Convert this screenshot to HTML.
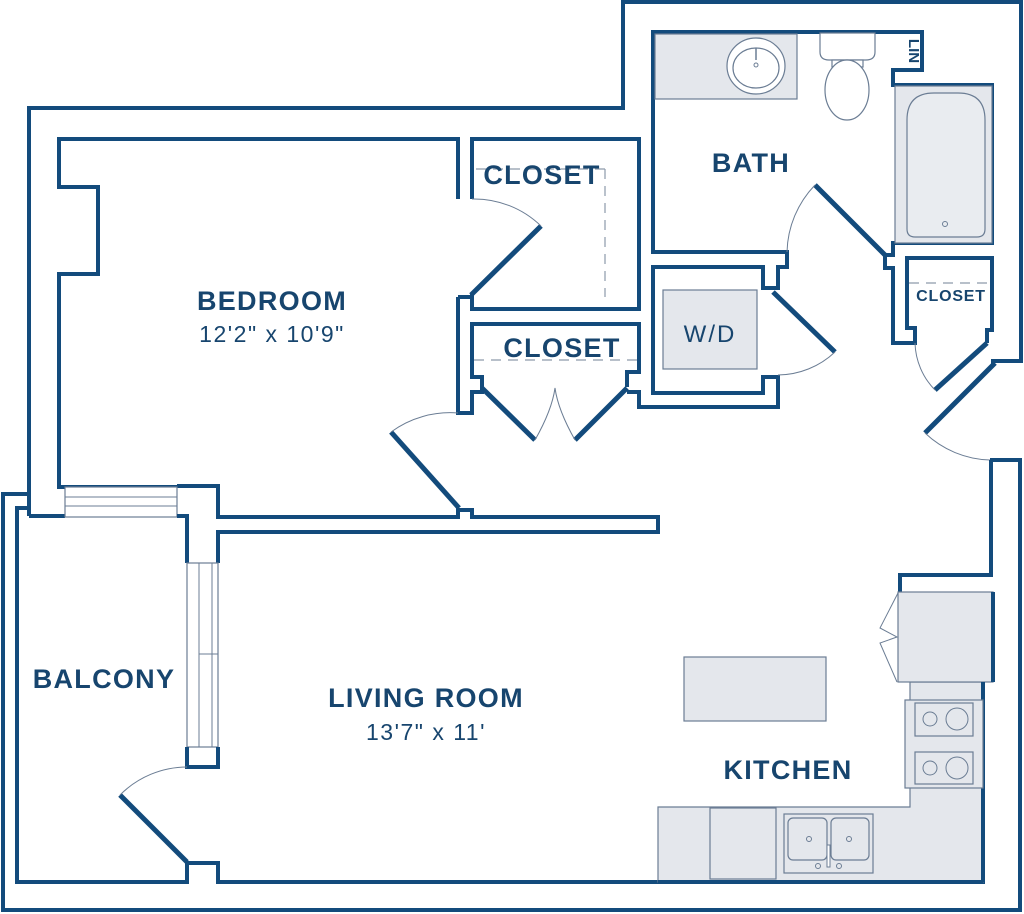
<!DOCTYPE html>
<html><head><meta charset="utf-8"><style>
html,body{margin:0;padding:0;background:#fff;}
svg{display:block;}
text{font-family:"Liberation Sans",sans-serif;fill:#17456e;}
.w{fill:none;stroke:#134b7c;stroke-width:4;stroke-linejoin:miter;}
.d{fill:none;stroke:#134b7c;stroke-width:5;}
.a{fill:none;stroke:#6b7d94;stroke-width:1;}
.g{fill:#e4e7ec;stroke:#6b7d94;stroke-width:1.2;}
.dash{fill:none;stroke:#8d9aab;stroke-width:1.2;stroke-dasharray:10 7;}
.b{font-weight:bold;font-size:27px;letter-spacing:1.3px;}
.s{font-size:23px;letter-spacing:1.5px;}
</style></head><body>
<svg width="1024" height="914" viewBox="0 0 1024 914" xmlns="http://www.w3.org/2000/svg">
<polyline class="w" points="29,516 29,108 623,108 623,2 1021,2 1021,361 993,361 993,364"/>
<polyline class="w" points="990,460 1020,460 1020,910 3,910 3,494 29,494"/>
<polyline class="w" points="29,508 17,508 17,882 187,882 187,863 218,863 218,882 983,882 983,682"/>
<polyline class="w" points="458,199 458,139 59,139 59,187 98,187 98,274 59,274 59,487 177,487"/>
<polyline class="w" points="177,486 218,486 218,517 458,517 458,510 472,510 472,517 658,517 658,532 218,532 218,563"/>
<polyline class="w" points="29,516 65,516"/>
<rect x="65" y="487" width="112" height="30" fill="#fff" stroke="#6b7d94" stroke-width="1.2"/>
<line x1="65" y1="497" x2="177" y2="497" class="a"/>
<line x1="65" y1="506" x2="177" y2="506" class="a"/>
<polyline class="w" points="177,516 187,516 187,563"/>
<polyline class="w" points="458,297 472,297 472,293"/>
<polyline class="w" points="458,297 458,413 472,413 472,392 482,392 482,377 472,377 472,324 639,324 639,372 627,372 627,387"/>
<polyline class="w" points="627,392 639,392 639,407 778,407 778,377 763,377 763,393 653,393 653,267 763,267 763,288 778,288 778,267 787,267 787,252 653,252 653,32 922,32 922,70 893,70 893,85 992,85 992,243 893,243 893,255 885,255 885,268 893,268 893,343 915,343 915,328 907,328 907,258 992,258 992,330 987,330 987,343"/>
<polyline class="w" points="472,199 472,139 639,139 639,309 472,309 472,295"/>
<rect x="187" y="563" width="31" height="184" fill="#fff" stroke="#6b7d94" stroke-width="1.2"/>
<line x1="199" y1="563" x2="199" y2="747" class="a"/>
<line x1="212" y1="563" x2="212" y2="747" class="a"/>
<line x1="199" y1="654" x2="218" y2="654" class="a"/>
<polyline class="w" points="187,747 187,767 218,767 218,747"/>
<line class="d" x1="187" y1="862" x2="120" y2="795"/>
<path class="a" d="M120,795 A95,95 0 0 1 187,767"/>
<line class="d" x1="459" y1="508" x2="391" y2="432"/>
<path class="a" d="M391,432 A100,100 0 0 1 458,413"/>
<line class="d" x1="471" y1="295" x2="541" y2="226"/>
<path class="a" d="M472,199 A96,96 0 0 1 541,226"/>
<line class="d" x1="482" y1="388" x2="535" y2="440"/>
<line class="d" x1="627" y1="388" x2="575" y2="440"/>
<path class="a" d="M535,440 Q552,410 555,388 Q558,410 575,440"/>
<line class="d" x1="885" y1="255" x2="815" y2="185"/>
<path class="a" d="M815,185 A100,100 0 0 0 787,252"/>
<line class="d" x1="773" y1="292" x2="835" y2="352"/>
<path class="a" d="M835,352 A84,84 0 0 1 778,375"/>
<line class="d" x1="987" y1="343" x2="935" y2="390"/>
<path class="a" d="M915,343 A70,70 0 0 0 935,390"/>
<line class="d" x1="995" y1="363" x2="925" y2="433"/>
<path class="a" d="M925,433 A98,98 0 0 0 990,460"/>
<line class="dash" x1="476" y1="169" x2="605" y2="169"/>
<line class="dash" x1="605" y1="169" x2="605" y2="297"/>
<line class="dash" x1="474" y1="360" x2="637" y2="360"/>
<line class="dash" x1="909" y1="283" x2="987" y2="283"/>
<rect class="g" x="655" y="34" width="142" height="65"/>
<ellipse cx="756" cy="66" rx="29" ry="28" fill="#fff" stroke="#6b7d94" stroke-width="1.2"/>
<ellipse cx="756" cy="68" rx="23" ry="20" fill="#fff" stroke="#6b7d94" stroke-width="1.2"/>
<line x1="756" y1="48" x2="756" y2="60" stroke="#6b7d94" stroke-width="1.5"/>
<circle cx="756" cy="65" r="2" class="a"/>
<path d="M820,33 L875,33 L875,52 Q875,60 866,60 L829,60 Q820,60 820,52 Z" fill="#fff" stroke="#6b7d94" stroke-width="1.2"/>
<rect x="832" y="60" width="31" height="7" fill="#fff" stroke="#6b7d94" stroke-width="1.2"/>
<ellipse cx="847" cy="90" rx="22" ry="30" fill="#fff" stroke="#6b7d94" stroke-width="1.2"/>
<rect class="g" x="895" y="86" width="97" height="157"/>
<path d="M907,120 Q907,93 934,93 L958,93 Q985,93 985,120 L985,229 Q985,237 977,237 L915,237 Q907,237 907,229 Z" fill="#e9ecf0" stroke="#6b7d94" stroke-width="1.2"/>
<circle cx="945" cy="224" r="2.5" fill="none" stroke="#6b7d94"/>
<text x="909" y="51" font-size="15" font-weight="bold" text-anchor="middle" transform="rotate(90 909 51)">LIN</text>
<rect class="g" x="663" y="290" width="94" height="79"/>
<polyline class="w" points="991,460 991,575 900,575 900,592"/>
<path class="g" d="M910,682 L983,682 L983,882 L658,882 L658,807 L910,807 Z"/>
<rect class="g" x="898" y="592" width="95" height="90"/>
<polyline class="a" points="898,593 880,628 897,637 880,643 897,682"/>
<line class="w" x1="993" y1="592" x2="993" y2="682"/>
<line class="w" x1="983" y1="682" x2="983" y2="882"/>
<rect class="g" x="905" y="700" width="78" height="88"/>
<rect class="g" x="915" y="703" width="58" height="33"/>
<rect class="g" x="915" y="752" width="58" height="32"/>
<circle cx="930" cy="719" r="7" class="a"/><circle cx="957" cy="719" r="11" class="a"/>
<circle cx="930" cy="768" r="7" class="a"/><circle cx="957" cy="768" r="11" class="a"/>
<rect class="g" x="710" y="808" width="66" height="71"/>
<rect class="g" x="784" y="814" width="89" height="59"/>
<rect x="788" y="818" width="39" height="42" rx="5" fill="none" stroke="#6b7d94" stroke-width="1.2"/>
<rect x="831" y="818" width="38" height="42" rx="5" fill="none" stroke="#6b7d94" stroke-width="1.2"/>
<circle cx="809" cy="839" r="2.5" class="a"/><circle cx="849" cy="839" r="2.5" class="a"/>
<circle cx="818" cy="866" r="2.5" class="a"/><circle cx="839" cy="866" r="2.5" class="a"/>
<rect x="827" y="845" width="3" height="22" fill="#fff" stroke="#6b7d94"/>
<line class="w" x1="658" y1="882" x2="983" y2="882"/>
<rect class="g" x="684" y="657" width="142" height="64"/>
<text class="b" x="272" y="310" text-anchor="middle">BEDROOM</text>
<text class="s" x="272" y="342" text-anchor="middle">12'2" x 10'9"</text>
<text class="b" x="542" y="184" text-anchor="middle">CLOSET</text>
<text class="b" x="562" y="357" text-anchor="middle">CLOSET</text>
<text class="b" x="751" y="172" text-anchor="middle">BATH</text>
<text x="710" y="342" font-size="24" letter-spacing="2" text-anchor="middle">W/D</text>
<text x="951" y="301" font-size="16" letter-spacing="0.8" font-weight="bold" text-anchor="middle">CLOSET</text>
<text class="b" x="104" y="688" text-anchor="middle">BALCONY</text>
<text class="b" x="426" y="707" text-anchor="middle">LIVING ROOM</text>
<text class="s" x="426" y="740" text-anchor="middle">13'7" x 11'</text>
<text class="b" x="788" y="779" text-anchor="middle">KITCHEN</text>
</svg>
</body></html>
